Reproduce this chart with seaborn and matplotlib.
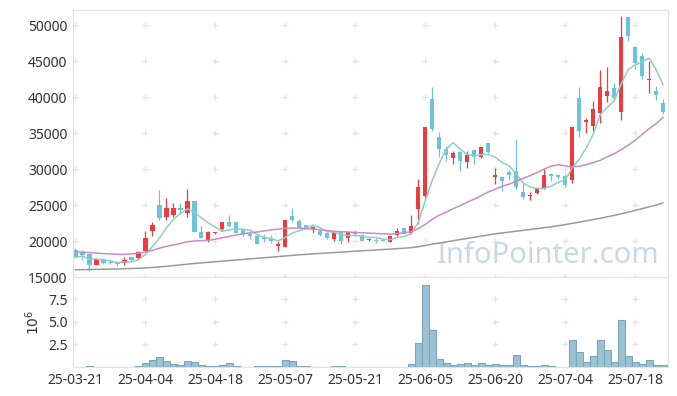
"""
Candlestick chart with 5/20/60 day moving averages and a volume panel,
25-03-21 to 25-07-24.
"""

import numpy as np
import pandas as pd
import seaborn as sns
import matplotlib
matplotlib.use('Agg')
import matplotlib.pyplot as plt

# Korean market holidays inside the window
holidays = ['2025-05-01', '2025-05-05', '2025-05-06', '2025-06-03', '2025-06-06']
dates = pd.bdate_range('2025-03-21', '2025-07-24', freq='C', holidays=holidays)

opens = [18810, 18480, 18190, 16670, 17530, 17140, 17140, 16900, 17720, 17620,
         18670, 21430, 25000, 23330, 23570, 24520, 23900, 25620, 21190, 20100,
         21150, 21670, 22710, 22620, 21520, 20950, 20710, 20570, 20480, 19290,
         19190, 23430, 22760, 22290, 21670, 21430, 21050, 20240, 21190, 20380,
         21290, 20860, 20150, 20140, 20100, 19900, 20860, 21760, 21050, 24470,
         26320, 39750, 34520, 32810, 31560, 32430, 30950, 32670, 31640, 33590,
         28860, 28860, 29560, 29790, 26880, 26220, 26640, 27390, 29380, 29140,
         29100, 28500, 39840, 36500, 35950, 37750, 40210, 41280, 37890, 51090,
         47020, 45770, 42390, 40810, 39240]
highs = [19050, 18810, 18330, 17600, 17620, 17380, 17240, 17720, 17950, 18620,
         21330, 22620, 27070, 25950, 25240, 25240, 27160, 25620, 22140, 21330,
         21290, 22710, 23570, 22620, 21670, 21190, 20950, 20950, 20860, 20000,
         22860, 24520, 23100, 22290, 22140, 21670, 21190, 21330, 21190, 21430,
         21520, 20950, 20380, 20380, 20380, 20710, 21760, 21760, 23570, 28640,
         35900, 41360, 35110, 33260, 32570, 32570, 32570, 32810, 33120, 33600,
         30170, 29100, 29890, 34200, 28170, 26780, 27450, 30170, 29420, 29330,
         29330, 36040, 41360, 37110, 39420, 43780, 44240, 41920, 51320, 51180,
         47150, 46140, 45070, 41600, 39750]
lows = [17620, 17380, 15900, 16600, 16810, 16760, 16520, 16670, 17280, 17480,
        18480, 20760, 22860, 22990, 23380, 23810, 23380, 21190, 20380, 19850,
        21000, 21430, 21900, 21050, 20760, 20330, 19520, 19850, 19760, 18670,
        19190, 22620, 21810, 21670, 21050, 20710, 20240, 20000, 19520, 19850,
        20710, 20000, 19950, 19670, 19950, 19900, 20710, 20950, 20950, 22390,
        26000, 35350, 31640, 31180, 30720, 29790, 30170, 30720, 31550, 32300,
        27950, 27010, 28500, 27250, 25860, 25720, 26500, 27250, 28310, 28640,
        27470, 28000, 34420, 34970, 35350, 36360, 39380, 39520, 36830, 47750,
        43920, 42530, 40530, 39610, 37670]
closes = [17720, 18100, 16670, 17530, 16900, 17000, 16760, 17380, 17380, 18480,
          20380, 22290, 23240, 24520, 24520, 24380, 25620, 21190, 20380, 21190,
          21290, 22710, 22140, 21050, 20950, 20710, 19620, 20240, 20000, 19620,
          22860, 22860, 21810, 21670, 21900, 20860, 20380, 21290, 20000, 21290,
          20950, 20000, 20240, 20000, 20000, 20710, 21430, 20950, 22140, 27470,
          35810, 35580, 32810, 32020, 32200, 31180, 32020, 31640, 33030, 32340,
          29240, 28400, 29240, 27470, 26080, 26320, 27390, 29240, 29000, 28860,
          27810, 35810, 35250, 36830, 38360, 41460, 40900, 39890, 48310, 48540,
          44700, 42990, 42570, 40310, 37890]
# volume in millions of shares
volume_m = [0.02, 0.02, 0.10, 0.02, 0.02, 0.02, 0.02, 0.02, 0.02, 0.10,
            0.44, 0.81, 1.11, 0.67, 0.33, 0.22, 0.67, 0.59, 0.26, 0.11,
            0.11, 0.22, 0.44, 0.11, 0.02, 0.02, 0.07, 0.07, 0.07, 0.07,
            0.81, 0.70, 0.10, 0.10, 0.02, 0.02, 0.02, 0.07, 0.07, 0.02,
            0.02, 0.02, 0.02, 0.02, 0.02, 0.02, 0.02, 0.02, 0.33, 2.67,
            9.04, 4.11, 0.89, 0.44, 0.22, 0.33, 0.44, 0.22, 0.44, 0.22,
            0.33, 0.22, 0.22, 1.33, 0.22, 0.11, 0.11, 0.22, 0.11, 0.03,
            0.03, 3.00, 1.70, 0.59, 1.26, 3.04, 1.93, 0.59, 5.15, 1.26,
            0.59, 0.37, 0.81, 0.22, 0.22]
# 20 and 60 day averages as drawn (they include days before the window)
ma20 = [18500, 18450, 18400, 18330, 18250, 18200, 18150, 18150, 18200, 18300,
        18450, 18700, 19000, 19250, 19450, 19650, 19900, 20000, 20050, 20100,
        20250, 20450, 20650, 20850, 21000, 21150, 21250, 21400, 21550, 21650,
        21750, 21800, 21800, 21750, 21650, 21550, 21450, 21350, 21300, 21250,
        21200, 21150, 21100, 21050, 21000, 20950, 21050, 21150, 21300, 21700,
        22300, 23000, 23600, 24000, 24500, 24900, 25400, 25800, 26300, 26800,
        27200, 27600, 27900, 28300, 28700, 29100, 29500, 30000, 30400, 30600,
        30450, 30300, 30400, 30600, 30900, 31200, 31700, 32100, 32700, 33300,
        34000, 34800, 35600, 36300, 37200]
ma60 = [16000, 16020, 16040, 16060, 16080, 16100, 16120, 16150, 16180, 16220,
        16260, 16320, 16400, 16480, 16580, 16680, 16780, 16880, 16960, 17040,
        17120, 17200, 17280, 17360, 17440, 17520, 17600, 17680, 17760, 17840,
        17920, 18000, 18080, 18150, 18220, 18280, 18340, 18400, 18460, 18520,
        18580, 18640, 18700, 18760, 18820, 18880, 18940, 19000, 19080, 19200,
        19380, 19560, 19720, 19880, 20040, 20200, 20360, 20520, 20680, 20840,
        21000, 21120, 21240, 21360, 21480, 21600, 21720, 21850, 21980, 22120,
        22280, 22450, 22620, 22800, 22980, 23160, 23360, 23560, 23780, 24000,
        24250, 24500, 24750, 25000, 25300]

price_ticks = [15000, 20000, 25000, 30000, 35000, 40000, 45000, 50000]
volume_ticks = [2.5, 5.0, 7.5]

RED = '#ef3b3b'
BLUE = '#6cc4dc'
LINE_COLORS = {'ma5': '#8ecfc4', 'ma20': '#c98cc6', 'ma60': '#9a9a9a'}
GRID = '#e4e4e4'
SPINE = '#e2e2e2'


def add_plus_grid(ax, xs, ys):
    gx, gy = np.meshgrid(xs, ys)
    ax.plot(gx.ravel(), gy.ravel(), '+', color=GRID, ms=4, mew=0.9, zorder=0)


def main():
    sns.set_theme(style='white')
    plt.rcParams['font.family'] = ['Noto Sans', 'DejaVu Sans']

    df = pd.DataFrame({'date': dates, 'open': opens, 'high': highs,
                       'low': lows, 'close': closes, 'volume': volume_m,
                       'ma20': ma20, 'ma60': ma60})
    df['x'] = np.arange(len(df))
    df['ma5'] = df['close'].rolling(5, min_periods=1).mean()

    fig = plt.figure(figsize=(6.77, 3.96), dpi=100)
    ax = fig.add_axes([0.108, 0.3005, 0.8787, 0.6742])
    axv = fig.add_axes([0.108, 0.0732, 0.8787, 0.2273], sharex=ax)

    up = df['close'] >= df['open']
    colors = np.where(up, RED, BLUE)
    ax.vlines(df['x'], df['low'], df['high'], colors=colors,
              linewidth=0.9, zorder=2)
    body_low = df[['open', 'close']].min(axis=1)
    body_h = (df['close'] - df['open']).abs().clip(lower=150)
    ax.bar(df['x'], body_h, bottom=body_low, width=0.66, color=colors,
           linewidth=0, zorder=2)

    lines = df.melt(id_vars='x', value_vars=['ma5', 'ma20', 'ma60'],
                    var_name='line', value_name='price')
    sns.lineplot(data=lines, x='x', y='price', hue='line',
                 palette=LINE_COLORS, linewidth=1.1, legend=False,
                 ax=ax, zorder=3)

    axv.bar(df['x'], df['volume'], width=1.0, color='#9cc1d2',
            edgecolor='#7ba6bb', linewidth=0.8, zorder=2)

    xticks = df['x'][::10].to_numpy()
    add_plus_grid(ax, xticks, price_ticks)
    add_plus_grid(axv, xticks, volume_ticks)

    ax.set_xlim(-0.3, 84.7)
    ax.set_ylim(15000, 52100)
    axv.set_ylim(0, 9.95)
    ax.set_yticks(price_ticks)
    axv.set_yticks(volume_ticks)
    axv.set_xticks(xticks)
    axv.set_xticklabels(df['date'][::10].dt.strftime('%y-%m-%d'))
    ax.set_xlabel('')
    ax.set_ylabel('')
    axv.set_ylabel('$10^6$', fontsize=10, color='#333333')

    for a in (ax, axv):
        a.tick_params(length=0, labelsize=10, colors='#333333', pad=4)
        for s in a.spines.values():
            s.set_color(SPINE)
            s.set_linewidth(0.8)
    ax.tick_params(labelbottom=False)

    ax.text(0.986, 0.025, 'InfoPointer.com', transform=ax.transAxes,
            ha='right', va='bottom', fontsize=21, color='#c6dae5', zorder=1)

    fig.savefig('out.png', dpi=100)


if __name__ == '__main__':
    main()
